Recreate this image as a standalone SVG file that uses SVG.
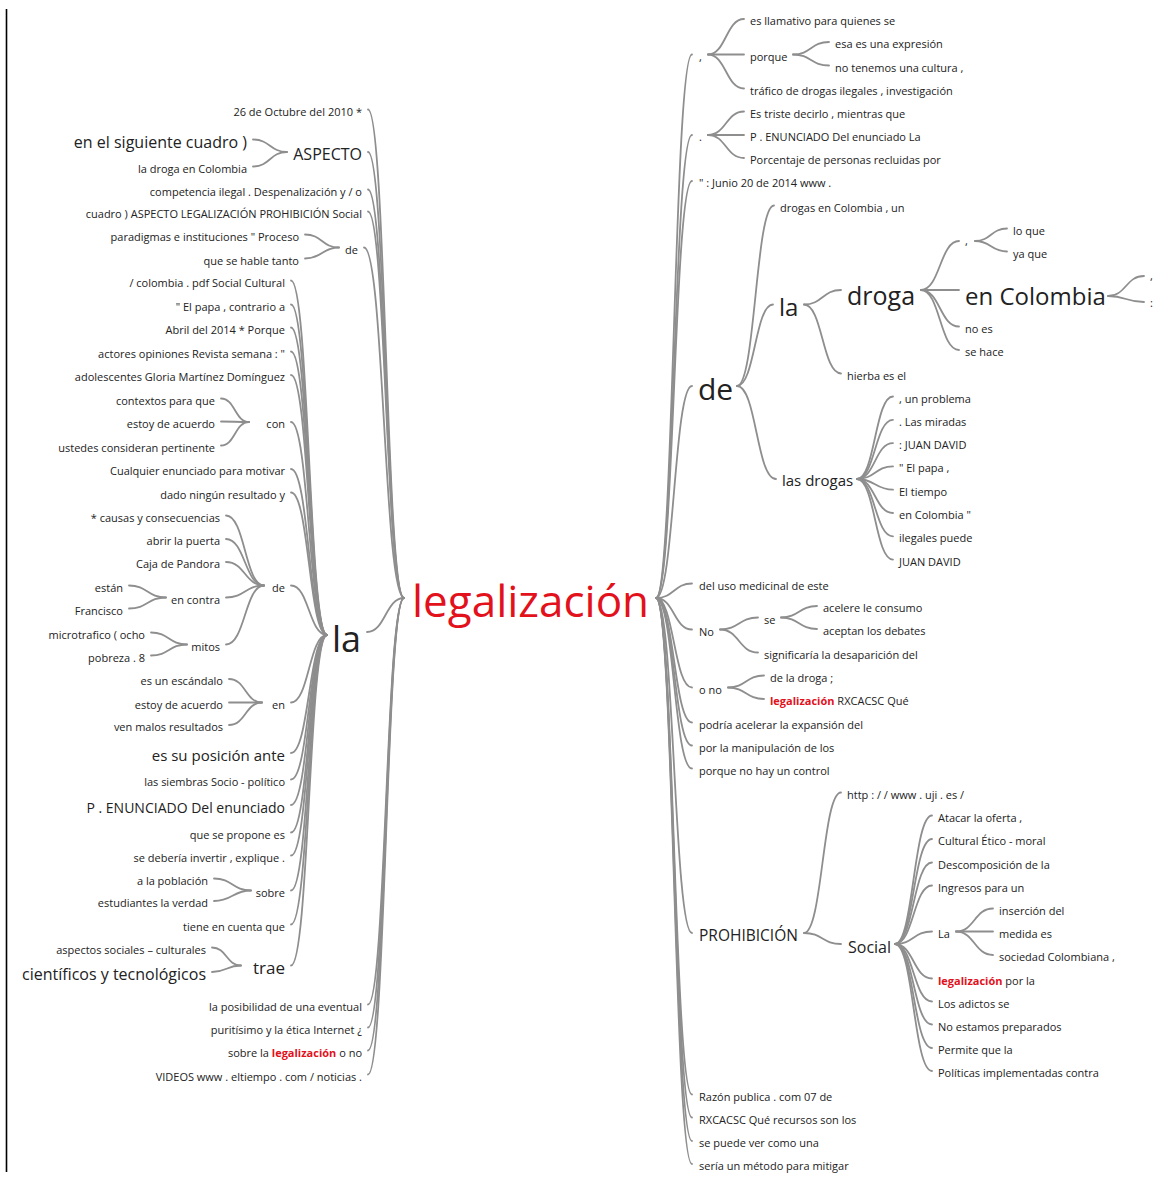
<svg xmlns="http://www.w3.org/2000/svg" width="1172" height="1181" viewBox="0 0 1172 1181">
<style>
text{font-family:"Open Sans","Noto Sans","DejaVu Sans",sans-serif;font-size:11px;fill:#222}
.e{text-anchor:end}
.s14{font-size:14px}.s15{font-size:15px}.s16{font-size:16px}.s17{font-size:17px}
.s24{font-size:24px}.s25{font-size:25px}.s30{font-size:30px}.s36{font-size:36px}
.root{font-size:44px;fill:#e2111b}
.hl{fill:#e2111b;font-weight:bold}
#links path{fill:none;stroke:#8e8e8e;stroke-width:1.8;stroke-linecap:round}
</style>
<rect width="1172" height="1181" fill="#fff"/>
<line x1="6.5" y1="9" x2="6.5" y2="1172" stroke="#000" stroke-width="1.6"/>

<g id="links">
<!-- root, left side -->
<path d="M404 598C386 598 386 109.5 368 109.5"/>
<path d="M404 598C386 598 386 152 368 152"/>
<path d="M404 598C386 598 386 189.5 368 189.5"/>
<path d="M404 598C386 598 386 211.5 368 211.5"/>
<path d="M404 598C384 598 384 247.5 364 247.5"/>
<path d="M404 598C385.5 598 385.5 632 367 632"/>
<path d="M404 598C386 598 386 1004.5 368 1004.5"/>
<path d="M404 598C386 598 386 1027.5 368 1027.5"/>
<path d="M404 598C386 598 386 1050.5 368 1050.5"/>
<path d="M404 598C386 598 386 1074.5 368 1074.5"/>
<!-- ASPECTO -->
<path d="M287 152C270 152 270 139.5 253 139.5"/>
<path d="M287 152C270 152 270 166.5 253 166.5"/>
<!-- de (top) -->
<path d="M339 247.5C322 247.5 322 234.5 305 234.5"/>
<path d="M339 247.5C322 247.5 322 258.5 305 258.5"/>
<!-- la (left) -->
<path d="M327 635C309 635 309 280.5 291 280.5"/>
<path d="M327 635C309 635 309 304.5 291 304.5"/>
<path d="M327 635C309 635 309 327.5 291 327.5"/>
<path d="M327 635C309 635 309 351.5 291 351.5"/>
<path d="M327 635C309 635 309 375 291 375"/>
<path d="M327 635C309 635 309 422 291 422"/>
<path d="M327 635C309 635 309 469 291 469"/>
<path d="M327 635C309 635 309 492.5 291 492.5"/>
<path d="M327 635C309 635 309 585.5 291 585.5"/>
<path d="M327 635C309 635 309 702.5 291 702.5"/>
<path d="M327 635C309 635 309 753 291 753"/>
<path d="M327 635C309 635 309 779.5 291 779.5"/>
<path d="M327 635C309 635 309 805 291 805"/>
<path d="M327 635C309 635 309 832.5 291 832.5"/>
<path d="M327 635C309 635 309 855.5 291 855.5"/>
<path d="M327 635C309 635 309 890.5 291 890.5"/>
<path d="M327 635C309 635 309 924.5 291 924.5"/>
<path d="M327 635C309 635 309 965.5 291 965.5"/>
<!-- con -->
<path d="M249 422C235 422 235 398.5 221 398.5"/>
<path d="M249 422C235 422 235 421.5 221 421.5"/>
<path d="M249 422C235 422 235 445.5 221 445.5"/>
<!-- de (under la) -->
<path d="M264 585.5C245 585.5 245 515.5 226 515.5"/>
<path d="M264 585.5C245 585.5 245 539 226 539"/>
<path d="M264 585.5C245 585.5 245 562 226 562"/>
<path d="M264 585.5C245 585.5 245 597.5 226 597.5"/>
<path d="M264 585.5C245 585.5 245 644.5 226 644.5"/>
<!-- en contra -->
<path d="M166 597.5C147.5 597.5 147.5 585.5 129 585.5"/>
<path d="M166 597.5C147.5 597.5 147.5 608.5 129 608.5"/>
<!-- mitos -->
<path d="M187 644.5C169 644.5 169 632.5 151 632.5"/>
<path d="M187 644.5C169 644.5 169 655.5 151 655.5"/>
<!-- en -->
<path d="M262 702.5C245.5 702.5 245.5 679 229 679"/>
<path d="M262 702.5C245.5 702.5 245.5 702.5 229 702.5"/>
<path d="M262 702.5C245.5 702.5 245.5 725 229 725"/>
<!-- sobre -->
<path d="M251 890.5C232.5 890.5 232.5 878.5 214 878.5"/>
<path d="M251 890.5C232.5 890.5 232.5 901 214 901"/>
<!-- trae -->
<path d="M241 965.5C226.5 965.5 226.5 947.5 212 947.5"/>
<path d="M241 965.5C226.5 965.5 226.5 972 212 972"/>

<!-- root, right side -->
<path d="M656 598C674 598 674 54.5 692 54.5"/>
<path d="M656 598C674 598 674 135 692 135"/>
<path d="M656 598C674 598 674 181 692 181"/>
<path d="M656 598C674 598 674 386 692 386"/>
<path d="M656 598C674 598 674 583.5 692 583.5"/>
<path d="M656 598C674 598 674 629.5 692 629.5"/>
<path d="M656 598C674 598 674 687.5 692 687.5"/>
<path d="M656 598C674 598 674 722.5 692 722.5"/>
<path d="M656 598C674 598 674 745.5 692 745.5"/>
<path d="M656 598C674 598 674 768.5 692 768.5"/>
<path d="M656 598C674 598 674 933 692 933"/>
<path d="M656 598C674 598 674 1094.5 692 1094.5"/>
<path d="M656 598C674 598 674 1117.5 692 1117.5"/>
<path d="M656 598C674 598 674 1141 692 1141"/>
<path d="M656 598C674 598 674 1164 692 1164"/>
<!-- , (top) -->
<path d="M708 54.5C726 54.5 726 19 744 19"/>
<path d="M708 54.5C726 54.5 726 54.5 744 54.5"/>
<path d="M708 54.5C726 54.5 726 88.5 744 88.5"/>
<!-- porque -->
<path d="M793 54.5C811 54.5 811 42 829 42"/>
<path d="M793 54.5C811 54.5 811 65.5 829 65.5"/>
<!-- . -->
<path d="M708 135C726 135 726 111.5 744 111.5"/>
<path d="M708 135C726 135 726 135 744 135"/>
<path d="M708 135C726 135 726 158 744 158"/>
<!-- de (right) -->
<path d="M737 386C755.5 386 755.5 205.5 774 205.5"/>
<path d="M737 386C755 386 755 304.5 773 304.5"/>
<path d="M737 386C756.5 386 756.5 479 776 479"/>
<!-- la (right) -->
<path d="M804 304.5C822.5 304.5 822.5 290 841 290"/>
<path d="M804 304.5C822.5 304.5 822.5 373.5 841 373.5"/>
<!-- droga -->
<path d="M921 290C940 290 940 241 959 241"/>
<path d="M921 290C940 290 940 290 959 290"/>
<path d="M921 290C940 290 940 326.5 959 326.5"/>
<path d="M921 290C940 290 940 350 959 350"/>
<!-- , (under droga) -->
<path d="M975 241C991 241 991 228.5 1007 228.5"/>
<path d="M975 241C991 241 991 251.5 1007 251.5"/>
<!-- en Colombia -->
<path d="M1108 296C1126 296 1126 276 1144 276"/>
<path d="M1108 296C1126 296 1126 302 1144 302"/>
<!-- las drogas -->
<path d="M857 479C875 479 875 396.5 893 396.5"/>
<path d="M857 479C875 479 875 419.8 893 419.8"/>
<path d="M857 479C875 479 875 443.1 893 443.1"/>
<path d="M857 479C875 479 875 466.4 893 466.4"/>
<path d="M857 479C875 479 875 489.7 893 489.7"/>
<path d="M857 479C875 479 875 513 893 513"/>
<path d="M857 479C875 479 875 536.3 893 536.3"/>
<path d="M857 479C875 479 875 559.6 893 559.6"/>
<!-- No -->
<path d="M720 629.5C739 629.5 739 617.5 758 617.5"/>
<path d="M720 629.5C739 629.5 739 652.5 758 652.5"/>
<!-- se -->
<path d="M781 617.5C799 617.5 799 606 817 606"/>
<path d="M781 617.5C799 617.5 799 629 817 629"/>
<!-- o no -->
<path d="M728 687.5C746 687.5 746 675.5 764 675.5"/>
<path d="M728 687.5C746 687.5 746 699 764 699"/>
<!-- PROHIBICIÓN -->
<path d="M804 933C822.5 933 822.5 792.5 841 792.5"/>
<path d="M804 933C822.5 933 822.5 944 841 944"/>
<!-- Social -->
<path d="M895 944C913.5 944 913.5 815.5 932 815.5"/>
<path d="M895 944C913.5 944 913.5 839 932 839"/>
<path d="M895 944C913.5 944 913.5 862.5 932 862.5"/>
<path d="M895 944C913.5 944 913.5 885.5 932 885.5"/>
<path d="M895 944C913.5 944 913.5 931.5 932 931.5"/>
<path d="M895 944C913.5 944 913.5 978.5 932 978.5"/>
<path d="M895 944C913.5 944 913.5 1001.5 932 1001.5"/>
<path d="M895 944C913.5 944 913.5 1024.5 932 1024.5"/>
<path d="M895 944C913.5 944 913.5 1048 932 1048"/>
<path d="M895 944C913.5 944 913.5 1071 932 1071"/>
<!-- La -->
<path d="M956 931.5C974.5 931.5 974.5 908.5 993 908.5"/>
<path d="M956 931.5C974.5 931.5 974.5 931.5 993 931.5"/>
<path d="M956 931.5C974.5 931.5 974.5 955 993 955"/>
</g>

<!-- root -->
<g id="root"><text class="root" x="412" y="617">legalización</text></g>

<!-- left branches -->
<g id="l-octubre"><text class="e" x="362" y="115.5">26 de Octubre del 2010 *</text></g>
<g id="l-aspecto"><text class="e s16" x="362" y="160">ASPECTO</text></g>
<g id="l-aspecto-1"><text class="e s16" x="247" y="147.5">en el siguiente cuadro )</text></g>
<g id="l-aspecto-2"><text class="e" x="247" y="172.5">la droga en Colombia</text></g>
<g id="l-competencia"><text class="e" x="362" y="195.5">competencia ilegal . Despenalización y / o</text></g>
<g id="l-cuadro"><text class="e" x="362" y="217.5">cuadro ) ASPECTO LEGALIZACIÓN PROHIBICIÓN Social</text></g>
<g id="l-de"><text class="e" x="358" y="253.5">de</text></g>
<g id="l-de-1"><text class="e" x="299" y="240.5">paradigmas e instituciones " Proceso</text></g>
<g id="l-de-2"><text class="e" x="299" y="264.5">que se hable tanto</text></g>
<g id="l-la"><text class="e s36" x="361" y="652">la</text></g>
<g id="l-la-1"><text class="e" x="285" y="286.5">/ colombia . pdf Social Cultural</text></g>
<g id="l-la-2"><text class="e" x="285" y="310.5">" El papa , contrario a</text></g>
<g id="l-la-3"><text class="e" x="285" y="333.5">Abril del 2014 * Porque</text></g>
<g id="l-la-4"><text class="e" x="285" y="357.5">actores opiniones Revista semana : "</text></g>
<g id="l-la-5"><text class="e" x="285" y="381">adolescentes Gloria Martínez Domínguez</text></g>
<g id="l-con"><text class="e" x="285" y="428">con</text></g>
<g id="l-con-1"><text class="e" x="215" y="404.5">contextos para que</text></g>
<g id="l-con-2"><text class="e" x="215" y="427.5">estoy de acuerdo</text></g>
<g id="l-con-3"><text class="e" x="215" y="451.5">ustedes consideran pertinente</text></g>
<g id="l-la-6"><text class="e" x="285" y="475">Cualquier enunciado para motivar</text></g>
<g id="l-la-7"><text class="e" x="285" y="498.5">dado ningún resultado y</text></g>
<g id="l-la-de"><text class="e" x="285" y="591.5">de</text></g>
<g id="l-la-de-1"><text class="e" x="220" y="521.5">* causas y consecuencias</text></g>
<g id="l-la-de-2"><text class="e" x="220" y="545">abrir la puerta</text></g>
<g id="l-la-de-3"><text class="e" x="220" y="568">Caja de Pandora</text></g>
<g id="l-encontra"><text class="e" x="220" y="603.5">en contra</text></g>
<g id="l-encontra-1"><text class="e" x="123" y="591.5">están</text></g>
<g id="l-encontra-2"><text class="e" x="123" y="614.5">Francisco</text></g>
<g id="l-mitos"><text class="e" x="220" y="650.5">mitos</text></g>
<g id="l-mitos-1"><text class="e" x="145" y="638.5">microtrafico ( ocho</text></g>
<g id="l-mitos-2"><text class="e" x="145" y="661.5">pobreza . 8</text></g>
<g id="l-en"><text class="e" x="285" y="708.5">en</text></g>
<g id="l-en-1"><text class="e" x="223" y="685">es un escándalo</text></g>
<g id="l-en-2"><text class="e" x="223" y="708.5">estoy de acuerdo</text></g>
<g id="l-en-3"><text class="e" x="223" y="731">ven malos resultados</text></g>
<g id="l-la-8"><text class="e s15" x="285" y="760.5">es su posición ante</text></g>
<g id="l-la-9"><text class="e" x="285" y="785.5">las siembras Socio - político</text></g>
<g id="l-la-10"><text class="e s14" x="285" y="812.5">P . ENUNCIADO Del enunciado</text></g>
<g id="l-la-11"><text class="e" x="285" y="838.5">que se propone es</text></g>
<g id="l-la-12"><text class="e" x="285" y="861.5">se debería invertir , explique .</text></g>
<g id="l-sobre"><text class="e" x="285" y="896.5">sobre</text></g>
<g id="l-sobre-1"><text class="e" x="208" y="884.5">a la población</text></g>
<g id="l-sobre-2"><text class="e" x="208" y="907">estudiantes la verdad</text></g>
<g id="l-la-13"><text class="e" x="285" y="930.5">tiene en cuenta que</text></g>
<g id="l-trae"><text class="e s17" x="285" y="974">trae</text></g>
<g id="l-trae-1"><text class="e" x="206" y="953.5">aspectos sociales – culturales</text></g>
<g id="l-trae-2"><text class="e s16" x="206" y="980">científicos y tecnológicos</text></g>
<g id="l-posibilidad"><text class="e" x="362" y="1010.5">la posibilidad de una eventual</text></g>
<g id="l-puritisimo"><text class="e" x="362" y="1033.5">puritísimo y la ética Internet ¿</text></g>
<g id="l-sobre-la"><text class="e" x="362" y="1056.5">sobre la <tspan class="hl">legalización</tspan> o no</text></g>
<g id="l-videos"><text class="e" x="362" y="1080.5">VIDEOS www . eltiempo . com / noticias .</text></g>

<!-- right branches -->
<g id="r-comma"><text x="699" y="60.5">,</text></g>
<g id="r-comma-1"><text x="750" y="25">es llamativo para quienes se</text></g>
<g id="r-porque"><text x="750" y="60.5">porque</text></g>
<g id="r-porque-1"><text x="835" y="48">esa es una expresión</text></g>
<g id="r-porque-2"><text x="835" y="71.5">no tenemos una cultura ,</text></g>
<g id="r-comma-2"><text x="750" y="94.5">tráfico de drogas ilegales , investigación</text></g>
<g id="r-dot"><text x="699" y="141">.</text></g>
<g id="r-dot-1"><text x="750" y="117.5">Es triste decirlo , mientras que</text></g>
<g id="r-dot-2"><text x="750" y="141">P . ENUNCIADO Del enunciado La</text></g>
<g id="r-dot-3"><text x="750" y="164">Porcentaje de personas recluidas por</text></g>
<g id="r-junio"><text x="699" y="187">" : Junio 20 de 2014 www .</text></g>
<g id="r-de"><text class="s30" x="698" y="400">de</text></g>
<g id="r-de-1"><text x="780" y="211.5">drogas en Colombia , un</text></g>
<g id="r-la"><text class="s24" x="779" y="316">la</text></g>
<g id="r-droga"><text class="s25" x="847" y="305">droga</text></g>
<g id="r-droga-comma"><text x="965" y="244.5">,</text></g>
<g id="r-loque"><text x="1013" y="234.5">lo que</text></g>
<g id="r-yaque"><text x="1013" y="257.5">ya que</text></g>
<g id="r-encolombia"><text class="s24" x="965" y="305">en Colombia</text></g>
<g id="r-encolombia-1"><text x="1150" y="280">,</text></g>
<g id="r-encolombia-2"><text x="1150" y="307">:</text></g>
<g id="r-noes"><text x="965" y="332.5">no es</text></g>
<g id="r-sehace"><text x="965" y="356">se hace</text></g>
<g id="r-hierba"><text x="847" y="379.5">hierba es el</text></g>
<g id="r-lasdrogas"><text class="s15" x="782" y="486">las drogas</text></g>
<g id="r-ld-1"><text x="899" y="402.5">, un problema</text></g>
<g id="r-ld-2"><text x="899" y="425.8">. Las miradas</text></g>
<g id="r-ld-3"><text x="899" y="449.1">: JUAN DAVID</text></g>
<g id="r-ld-4"><text x="899" y="472.4">" El papa ,</text></g>
<g id="r-ld-5"><text x="899" y="495.7">El tiempo</text></g>
<g id="r-ld-6"><text x="899" y="519">en Colombia "</text></g>
<g id="r-ld-7"><text x="899" y="542.3">ilegales puede</text></g>
<g id="r-ld-8"><text x="899" y="565.6">JUAN DAVID</text></g>
<g id="r-uso"><text x="699" y="589.5">del uso medicinal de este</text></g>
<g id="r-no"><text x="699" y="635.5">No</text></g>
<g id="r-se"><text x="764" y="623.5">se</text></g>
<g id="r-se-1"><text x="823" y="612">acelere le consumo</text></g>
<g id="r-se-2"><text x="823" y="635">aceptan los debates</text></g>
<g id="r-significaria"><text x="764" y="658.5">significaría la desaparición del</text></g>
<g id="r-ono"><text x="699" y="693.5">o no</text></g>
<g id="r-ono-1"><text x="770" y="681.5">de la droga ;</text></g>
<g id="r-ono-2"><text x="770" y="705"><tspan class="hl">legalización</tspan> RXCACSC Qué</text></g>
<g id="r-podria"><text x="699" y="728.5">podría acelerar la expansión del</text></g>
<g id="r-porla"><text x="699" y="751.5">por la manipulación de los</text></g>
<g id="r-porqueno"><text x="699" y="774.5">porque no hay un control</text></g>
<g id="r-prohibicion"><text class="s15" x="699" y="941" style="font-size:15.5px">PROHIBICIÓN</text></g>
<g id="r-http"><text x="847" y="798.5">http : / / www . uji . es /</text></g>
<g id="r-social"><text class="s16" x="848" y="953">Social</text></g>
<g id="r-social-1"><text x="938" y="821.5">Atacar la oferta ,</text></g>
<g id="r-social-2"><text x="938" y="845">Cultural Ético - moral</text></g>
<g id="r-social-3"><text x="938" y="868.5">Descomposición de la</text></g>
<g id="r-social-4"><text x="938" y="891.5">Ingresos para un</text></g>
<g id="r-La"><text x="938" y="937.5">La</text></g>
<g id="r-La-1"><text x="999" y="914.5">inserción del</text></g>
<g id="r-La-2"><text x="999" y="937.5">medida es</text></g>
<g id="r-La-3"><text x="999" y="961">sociedad Colombiana ,</text></g>
<g id="r-social-5"><text x="938" y="984.5"><tspan class="hl">legalización</tspan> por la</text></g>
<g id="r-social-6"><text x="938" y="1007.5">Los adictos se</text></g>
<g id="r-social-7"><text x="938" y="1030.5">No estamos preparados</text></g>
<g id="r-social-8"><text x="938" y="1054">Permite que la</text></g>
<g id="r-social-9"><text x="938" y="1077">Políticas implementadas contra</text></g>
<g id="r-razon"><text x="699" y="1100.5">Razón publica . com 07 de</text></g>
<g id="r-rxcacsc"><text x="699" y="1123.5">RXCACSC Qué recursos son los</text></g>
<g id="r-sepuede"><text x="699" y="1147">se puede ver como una</text></g>
<g id="r-seria"><text x="699" y="1170">sería un método para mitigar</text></g>
</svg>
